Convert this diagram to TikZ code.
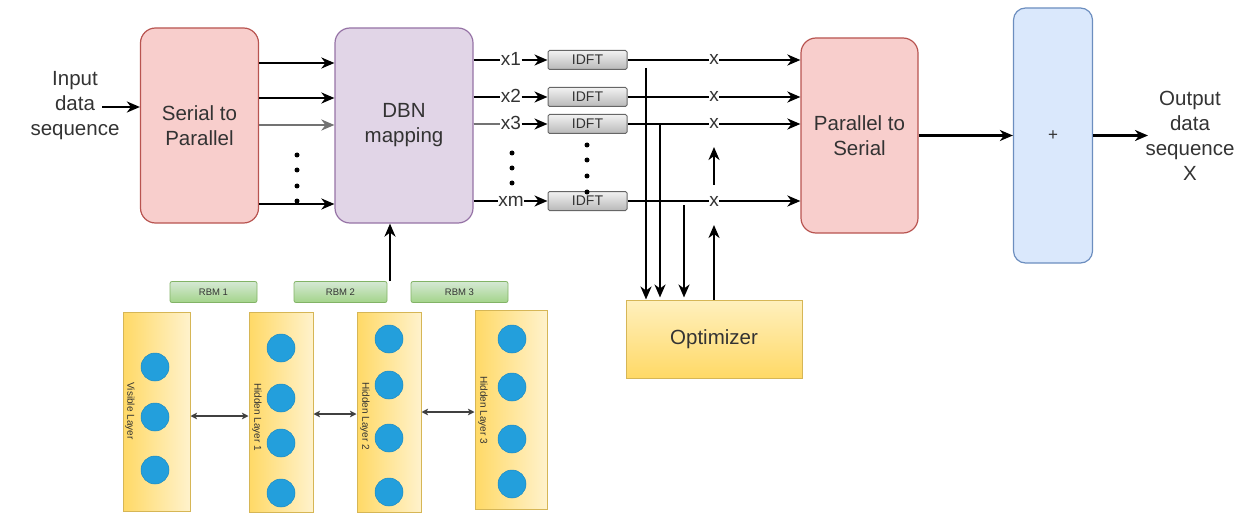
\documentclass[tikz,border=0pt]{standalone}
\usepackage{fontspec}
\setmainfont{Liberation Sans}
\usetikzlibrary{arrows.meta,calc}

\definecolor{pinkF}{HTML}{F8CECC}
\definecolor{pinkD}{HTML}{B85450}
\definecolor{purF}{HTML}{E1D5E7}
\definecolor{purD}{HTML}{9673A6}
\definecolor{bluF}{HTML}{DAE8FC}
\definecolor{bluD}{HTML}{6C8EBF}
\definecolor{yelL}{HTML}{FFF2CC}
\definecolor{yelM}{HTML}{FFF0BE}
\definecolor{yelD}{HTML}{FFD966}
\definecolor{yelB}{HTML}{D6B656}
\definecolor{grnL}{HTML}{D5E8D4}
\definecolor{grnD}{HTML}{A3D48A}
\definecolor{grnB}{HTML}{82B366}
\definecolor{gryL}{HTML}{F2F2F2}
\definecolor{gryD}{HTML}{B8B8B8}
\definecolor{gryB}{HTML}{666666}
\definecolor{txtC}{HTML}{333333}
\definecolor{dotF}{HTML}{239FDC}
\definecolor{dotB}{HTML}{1B8BC4}

\begin{document}
\begin{tikzpicture}[x=1pt,y=-1pt,
  every node/.style={text=txtC},
  bigtxt/.style={font=\fontsize{20.5}{25}\selectfont, align=center},
  block/.style={bigtxt, rounded corners=15pt, line width=1.2pt, inner sep=0pt},
  pinkbox/.style={block, fill=pinkF, draw=pinkD},
  purbox/.style={block, fill=purF, draw=purD},
  bluebox/.style={block, fill=bluF, draw=bluD, rounded corners=12pt},
  optbox/.style={bigtxt, draw=yelB, line width=1pt, top color=yelM, bottom color=yelD,
    minimum width=176pt, minimum height=78pt, inner sep=0pt},
  idftbox/.style={draw=gryB, line width=1pt, top color=gryL, bottom color=gryD,
    minimum width=79pt, minimum height=19pt, inner sep=0pt, rounded corners=1.5pt,
    font=\fontsize{14}{14}\selectfont},
  rbmbox/.style={draw=grnB, line width=0.8pt, top color=grnL, bottom color=grnD,
    minimum height=21pt, inner sep=0pt, rounded corners=2pt,
    font=\fontsize{9.5}{10}\selectfont},
  layerbox/.style={draw=yelB, line width=1pt, left color=yelD, right color=yelL,
    inner sep=0pt},
  unit/.style={circle, fill=dotF, draw=dotB, line width=0.5pt, minimum size=28pt, inner sep=0pt},
  laylab/.style={rotate=-90, font=\fontsize{10}{11}\selectfont, inner sep=0pt},
  lbl/.style={fill=white, inner sep=0.5pt, anchor=base, font=\fontsize{19}{19}\selectfont},
  arr/.style={line width=2.2pt, draw=black, -{Stealth[length=13pt,width=11pt,inset=4pt]}},
  plain/.style={line width=2.2pt, draw=black},
  link/.style={line width=1.2pt, draw=black!75, {Stealth[length=6.5pt,width=6.5pt,inset=1.5pt]}-{Stealth[length=6.5pt,width=6.5pt,inset=1.5pt]}},
  dot/.style={circle, fill=black, inner sep=0pt, minimum size=5pt}
]
\useasboundingbox (0,0) rectangle (1249,513);

% main blocks
\node[pinkbox, minimum width=118pt, minimum height=195pt] (s2p) at (199.5,125.5) {Serial to\\Parallel};
\node[purbox, minimum width=138pt, minimum height=195pt] (dbn) at (404,125.5) {DBN\\mapping};
\node[pinkbox, minimum width=117pt, minimum height=195pt] (p2s) at (859.5,135.5) {Parallel to\\Serial};
\node[bluebox, minimum width=79pt, minimum height=255pt, font=\fontsize{17}{17}\selectfont] (sum) at (1053,135.5) {+};
\node[optbox] (opt) at (714,339) {Optimizer};

% input / output texts
\node[bigtxt] (in) at (75,106) {Input\\data\\sequence};
\node[bigtxt] (out) at (1190,136) {Output\\data\\sequence\\X};

\coordinate (ia) at (102,107);
\draw[arr] (ia) -- (s2p.west |- ia);

% serial-to-parallel outputs
\foreach \yy/\cc in {63/black,98/black,125/black!55,204/black}{
  \draw[arr, draw=\cc] (s2p.east |- 0,\yy) -- (dbn.west |- 0,\yy);
}
\foreach \yy in {155,170,186,201}{ \node[dot] at (297,\yy) {}; }

% IDFT branches
\foreach \i/\yy/\lab in {1/60/x1,2/97/x2,3/124/x3,4/201/xm}{
  \node[idftbox] (f\i) at (587.5,\yy) {IDFT};
  \node[lbl] (l\i) at (511,\yy+5.5) {\lab};
  \draw[plain] (dbn.east |- f\i) -- (l\i.west |- f\i);
  \draw[arr] (l\i.east |- f\i) -- (f\i.west);
  \node[lbl] (m\i) at (714,\yy+5) {x};
  \draw[plain] (f\i.east) -- (m\i.west |- f\i);
  \draw[arr] (m\i.east |- f\i) -- (p2s.west |- f\i);
}
\draw[plain, draw=black!55] (dbn.east |- f3) -- (l3.west |- f3);
\foreach \yy in {153,168,183}{ \node[dot] at (512,\yy) {}; }
\foreach \yy in {145,160,176,192}{ \node[dot] at (587,\yy) {}; }

% optimizer feedback
\coordinate (v1) at (646,68);
\coordinate (v2) at (660,124);
\coordinate (v3) at (684,205);
\coordinate (u1) at (714,185);
\coordinate (u1t) at (714,147);
\coordinate (u2t) at (714,225);
\draw[arr] (v1) -- (v1 |- opt.north);
\draw[arr] (v2) -- ($(v2 |- opt.north)+(0,-2)$);
\draw[arr] (v3) -- ($(v3 |- opt.north)+(0,-2)$);
\draw[arr] (opt.north) -- (u2t);
\draw[arr] (u1) -- (u1t);

% serial output and sum
\draw[arr] (p2s.east) -- (sum.west);
\coordinate (oa) at (1148,135.5);
\draw[arr] (sum.east) -- (oa);

% RBM stack
\node[rbmbox, minimum width=87pt] (rbm1) at (213.5,292) {RBM 1};
\node[rbmbox, minimum width=93pt] (rbm2) at (340.5,292) {RBM 2};
\node[rbmbox, minimum width=97pt] (rbm3) at (459.5,292) {RBM 3};
\coordinate (dbnin) at (390,281);
\draw[arr] (dbnin) -- (dbnin |- dbn.south);

\node[layerbox, minimum width=67pt, minimum height=199pt] (L0) at (156.5,411.5) {};
\node[layerbox, minimum width=64pt, minimum height=200pt] (L1) at (281,412) {};
\node[layerbox, minimum width=64pt, minimum height=200pt] (L2) at (389,412) {};
\node[layerbox, minimum width=72pt, minimum height=199pt] (L3) at (511,409.5) {};

\node[laylab] (t0) at (130,411) {Visible Layer};
\node[laylab] (t1) at (257,417) {Hidden Layer 1};
\node[laylab] (t2) at (365,416) {Hidden Layer 2};
\node[laylab] (t3) at (483,410) {Hidden Layer 3};

\foreach \yy [count=\k] in {367,417,470}{ \node[unit] (a\k) at (155,\yy) {}; }
\foreach \yy [count=\k] in {348,398,443,493}{ \node[unit] (b\k) at (281,\yy) {}; }
\foreach \yy [count=\k] in {339,385,438,492}{ \node[unit] (c\k) at (389,\yy) {}; }
\foreach \yy [count=\k] in {339,387,439,484}{ \node[unit] (d\k) at (512,\yy) {}; }

\draw[link] (L0.east |- 0,416) -- (L1.west |- 0,416);
\draw[link] (L1.east |- 0,414) -- (L2.west |- 0,414);
\draw[link] (L2.east |- 0,412) -- (L3.west |- 0,412);
\end{tikzpicture}
\end{document}
